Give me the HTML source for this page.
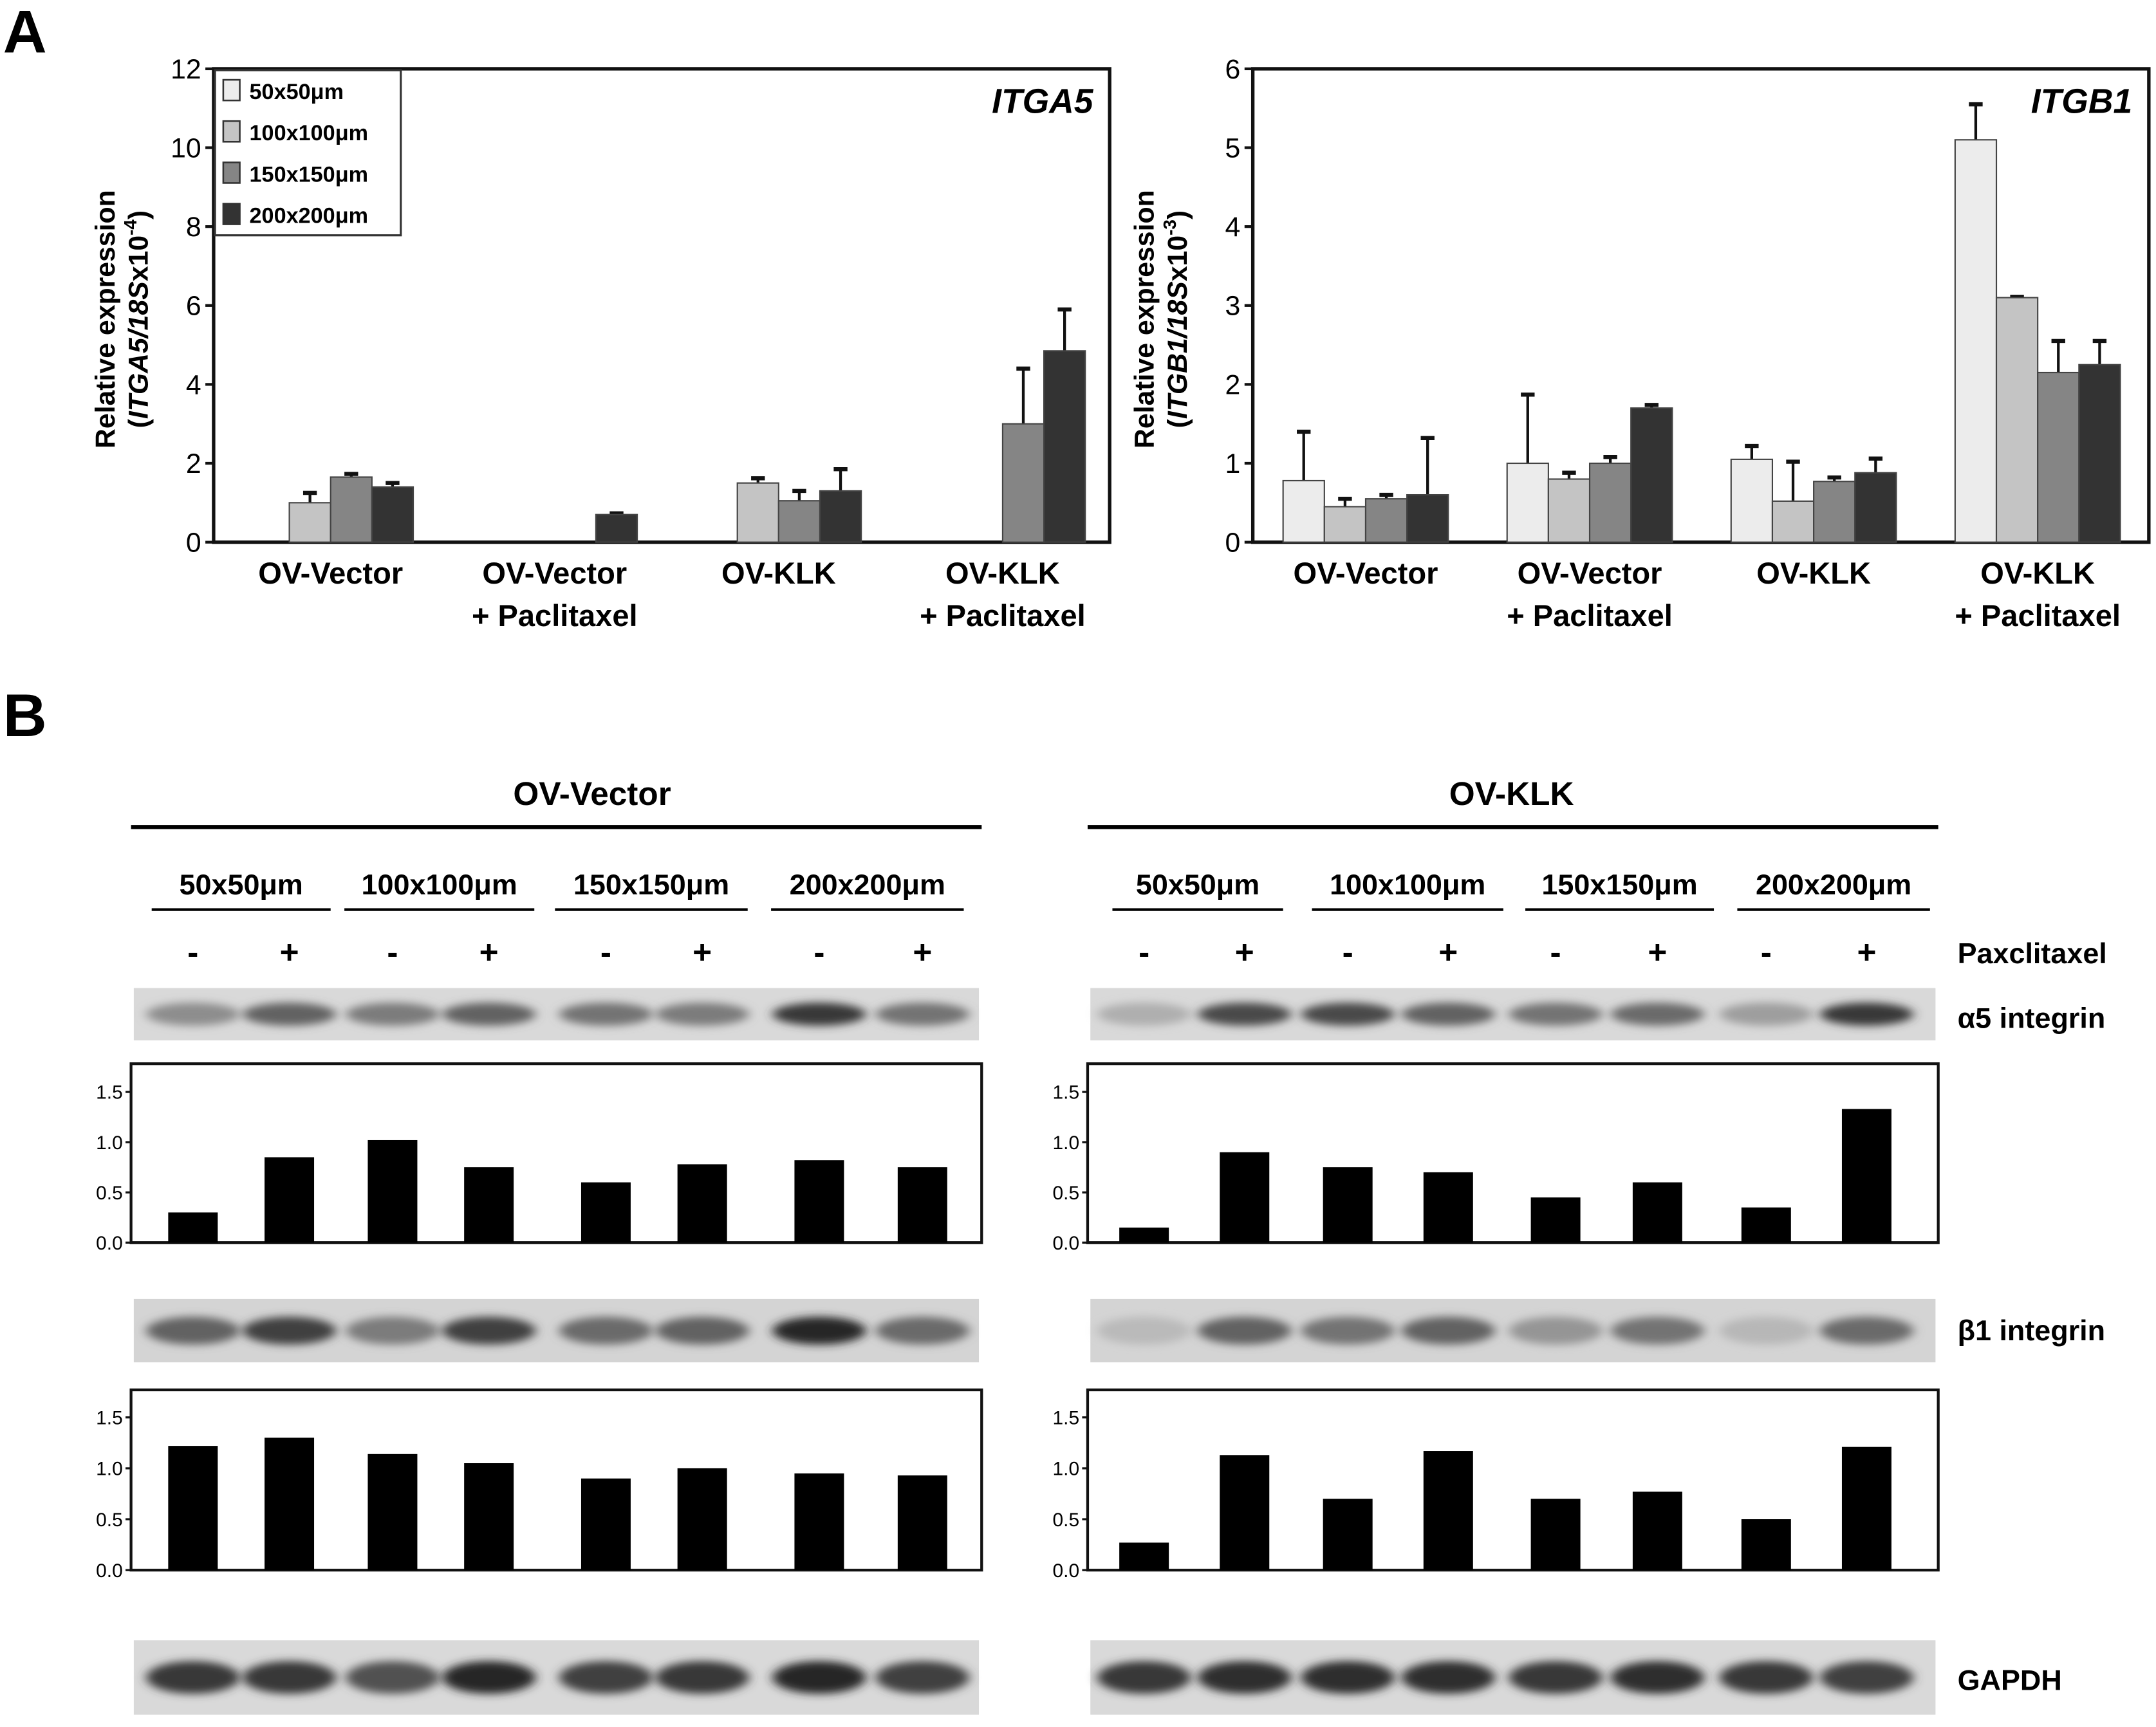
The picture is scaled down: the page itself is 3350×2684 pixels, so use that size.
<!DOCTYPE html>
<html><head><meta charset="utf-8"><style>
html,body{margin:0;padding:0;background:#fff;}
svg{display:block;font-family:"Liberation Sans",Arial,sans-serif;}
</style></head><body>
<svg id="fig" width="3350" height="2684" viewBox="0 0 1566 1255" xmlns="http://www.w3.org/2000/svg">
<defs>
<filter id="blur" x="-20%" y="-50%" width="140%" height="200%"><feGaussianBlur stdDeviation="4 3"/></filter>
</defs>
<text x="2" y="38" font-size="44" font-weight="bold">A</text>
<text x="2" y="535" font-size="44" font-weight="bold">B</text>
<g id="root"></g>
</svg>
<script>
// ===== Panel A data =====
const aCategories = ["OV-Vector","OV-Vector\n+ Paclitaxel","OV-KLK","OV-KLK\n+ Paclitaxel"];
const aSeriesNames = ["50x50μm","100x100μm","150x150μm","200x200μm"];
const itga5Values = [[0,1.0,1.65,1.4],[0,0,0,0.7],[0,1.5,1.05,1.3],[0,0,3.0,4.85]];
const itga5Errors = [[0,0.25,0.08,0.1],[0,0,0,0.03],[0,0.12,0.25,0.55],[0,0,1.4,1.05]];
const itgb1Values = [[0.78,0.45,0.55,0.6],[1.0,0.8,1.0,1.7],[1.05,0.52,0.77,0.88],[5.1,3.1,2.15,2.25]];
const itgb1Errors = [[0.62,0.1,0.05,0.72],[0.87,0.08,0.08,0.04],[0.17,0.5,0.05,0.18],[0.45,0.01,0.4,0.3]];
const itga5Ticks = [0,2,4,6,8,10,12];
const itgb1Ticks = [0,1,2,3,4,5,6];
// ===== Panel B data =====
const sizeLabels = ["50x50μm","100x100μm","150x150μm","200x200μm"];
const paclitaxelSigns = ["-","+","-","+","-","+","-","+"];
const a5Vector = [0.3,0.85,1.02,0.75,0.6,0.78,0.82,0.75];
const a5Klk = [0.15,0.9,0.75,0.7,0.45,0.6,0.35,1.33];
const b1Vector = [1.22,1.3,1.14,1.05,0.9,1.0,0.95,0.93];
const b1Klk = [0.27,1.13,0.7,1.17,0.7,0.77,0.5,1.21];
const bTicks = ["0.0","0.5","1.0","1.5"];
const blotA5Vector = [0.35,0.6,0.45,0.6,0.5,0.45,0.85,0.5];
const blotA5Klk = [0.15,0.75,0.75,0.6,0.5,0.55,0.25,0.85];
const blotB1Vector = [0.6,0.8,0.45,0.8,0.55,0.6,0.95,0.55];
const blotB1Klk = [0.08,0.6,0.5,0.6,0.3,0.5,0.1,0.55];
const gapdhVector = [0.85,0.85,0.7,0.95,0.8,0.85,0.95,0.8];
const gapdhKlk = [0.85,0.9,0.9,0.9,0.85,0.9,0.85,0.8];

const NS="http://www.w3.org/2000/svg";
const root=document.getElementById('root');
function el(tag,attrs,parent,text){const e=document.createElementNS(NS,tag);for(const k in attrs)e.setAttribute(k,attrs[k]);if(text!==undefined)e.textContent=text;(parent||root).appendChild(e);return e;}
const colors=["#ececec","#c4c4c4","#858585","#333333"];

function barChart(o){
  const g=el('g',{});
  
  
  const yMax=o.ticks[o.ticks.length-1];
  const y=v=>o.y1-(v/yMax)*(o.y1-o.y0);
  const step=(o.x1-o.x0)/o.cats.length;
  const cx=i=>o.x0+o.off+step*i;
  const bw=30;
  const fr=el('rect',{x:o.x0,y:o.y0,width:o.x1-o.x0,height:o.y1-o.y0,fill:'none',stroke:'#111','stroke-width':2.5},g);
  
  o.ticks.forEach(t=>{
    el('line',{x1:o.x0-6,x2:o.x0,y1:y(t),y2:y(t),stroke:'#111','stroke-width':2},g);
    const tx=el('text',{x:o.x0-9,y:y(t)+7,'font-size':20,'text-anchor':'end'},g,String(t));
    
  });
  o.vals.forEach((row,i)=>{
    row.forEach((v,j)=>{
      const x=cx(i)+(j-2)*bw;
      if(v>0){
        const e=o.errs[i][j];
        const ln=el('line',{x1:x+bw/2,x2:x+bw/2,y1:y(v),y2:y(v+e),stroke:'#111','stroke-width':2},g);
        
        el('line',{x1:x+bw/2-5,x2:x+bw/2+5,y1:y(v+e),y2:y(v+e),stroke:'#111','stroke-width':3},g);
        const r=el('rect',{x:x,y:y(v),width:bw,height:y(0)-y(v),fill:colors[j],stroke:'#444','stroke-width':1},g);
        
      }
    });
    const lines=o.cats[i].split('\n');
    lines.forEach((s,k)=>{
      const t=el('text',{x:cx(i),y:o.y1+30+k*31,'font-size':22,'font-weight':'bold','text-anchor':'middle'},g,s);
      
    });
  });
  const tt=el('text',{x:o.x1-12,y:o.y0+32,'font-size':25,'font-weight':'bold','font-style':'italic','text-anchor':'end'},g,o.title);
  
  const yl=el('text',{transform:`translate(${o.x0-72},${(o.y0+o.y1)/2+10}) rotate(-90)`,'font-size':20,'font-weight':'bold','text-anchor':'middle'},g);
  
  el('tspan',{x:0,dy:0},yl,'Relative expression');
  const t2=el('tspan',{x:0,dy:24},yl,'(');
  el('tspan',{'font-style':'italic'},yl,o.gene+'/18S');
  el('tspan',{},yl,'x10');
  el('tspan',{'font-size':13,dy:-8},yl,o.exp);
  el('tspan',{dy:8},yl,')');
  return g;
}
barChart({name:'itga5-chart',x0:155,x1:806,y0:50,y1:394,off:85,ticks:itga5Ticks,vals:itga5Values,errs:itga5Errors,cats:aCategories,title:'ITGA5',gene:'ITGA5',exp:'-4'});
barChart({name:'itgb1-chart',x0:910,x1:1561,y0:50,y1:394,off:82,ticks:itgb1Ticks,vals:itgb1Values,errs:itgb1Errors,cats:aCategories,title:'ITGB1',gene:'ITGB1',exp:'-3'});
// legend
const lg=el('g',{});

el('rect',{x:156,y:51,width:135,height:120,fill:'#fff',stroke:'#333','stroke-width':1.5},lg);
aSeriesNames.forEach((n,j)=>{
  const it=el('g',{},lg);
  
  el('rect',{x:162,y:58+j*30,width:12,height:15,fill:colors[j],stroke:'#333','stroke-width':1.2},it);
  el('text',{x:181,y:72+j*30,'font-size':16,'font-weight':'bold'},it,n);
});

// ===== Panel B =====
function T(x,y,s,size,anchor,name,extra){const t=el('text',Object.assign({x:x,y:y,'font-size':size,'font-weight':'bold','text-anchor':anchor||'middle'},extra||{}),root,s);return t;}
const sides=[
 {x0:95,x1:713,label:'OV-Vector',cx:430,lanes:[140,210,285,355,440,510,595,670],groups:[[110,240],[250,388],[403,543],[560,700]],a5:a5Vector,b1:b1Vector,ba5:blotA5Vector,bb1:blotB1Vector,gap:gapdhVector,key:'vector'},
 {x0:790,x1:1408,label:'OV-KLK',cx:1098,lanes:[831,904,979,1052,1130,1204,1283,1356],groups:[[808,932],[953,1092],[1108,1245],[1262,1402]],a5:a5Klk,b1:b1Klk,ba5:blotA5Klk,bb1:blotB1Klk,gap:gapdhKlk,key:'klk'}
];
function blot(s,yTop,h,vals,name,bg){
  const g=el('g',{});
  el('rect',{x:s.x0+2,y:yTop,width:s.x1-s.x0-4,height:h,fill:bg},g);
  vals.forEach((v,i)=>{
    const c=Math.round(200-170*v);
    const b=el('ellipse',{cx:s.lanes[i],cy:yTop+h/2,rx:34,ry:h*0.22,fill:`rgb(${c},${c},${c})`,filter:'url(#blur)'},g);
    
  });
}
function densChart(s,yTop,yZero,unit,vals,name){
  const g=el('g',{});
  const y=v=>yZero-v*unit;
  el('rect',{x:s.x0,y:yTop,width:s.x1-s.x0,height:yZero-yTop,fill:'none',stroke:'#111','stroke-width':2},g);
  bTicks.forEach(t=>{
    const v=parseFloat(t);
    el('line',{x1:s.x0-4,x2:s.x0,y1:y(v),y2:y(v),stroke:'#111','stroke-width':1.5},g);
    const tx=el('text',{x:s.x0-6,y:y(v)+5,'font-size':14,'text-anchor':'end'},g,t);
    
  });
  vals.forEach((v,i)=>{
    const r=el('rect',{x:s.lanes[i]-18,y:y(v),width:36,height:yZero-y(v),fill:'#000'},g);
    
  });
}
sides.forEach(s=>{
  T(s.cx,585,s.label,24,'middle','group-title-'+s.key);
  const hl=el('line',{x1:s.x0,x2:s.x1,y1:601,y2:601,stroke:'#000','stroke-width':3});
  
  s.groups.forEach((gr,k)=>{
    T((gr[0]+gr[1])/2,650,sizeLabels[k],21,'middle','size-label');
    el('line',{x1:gr[0],x2:gr[1],y1:661,y2:661,stroke:'#000','stroke-width':2});
  });
  paclitaxelSigns.forEach((p,i)=>T(s.lanes[i],700,p,24,'middle','paclitaxel-sign'));
  blot(s,718,38,s.ba5,'a5-blot-'+s.key,'#d9d9d9');
  densChart(s,773,903,73,s.a5,'a5-density-'+s.key);
  blot(s,944,46,s.bb1,'b1-blot-'+s.key,'#d4d4d4');
  densChart(s,1010,1141,74,s.b1,'b1-density-'+s.key);
  blot(s,1192,54,s.gap,'gapdh-blot-'+s.key,'#d9d9d9');
});
T(1422,700,'Paxclitaxel',21,'start','paclitaxel-label');
T(1422,747,'α5 integrin',21,'start','a5-label');
T(1422,974,'β1 integrin',21,'start','b1-label');
T(1422,1228,'GAPDH',21,'start','gapdh-label');
</script>
</body></html>
